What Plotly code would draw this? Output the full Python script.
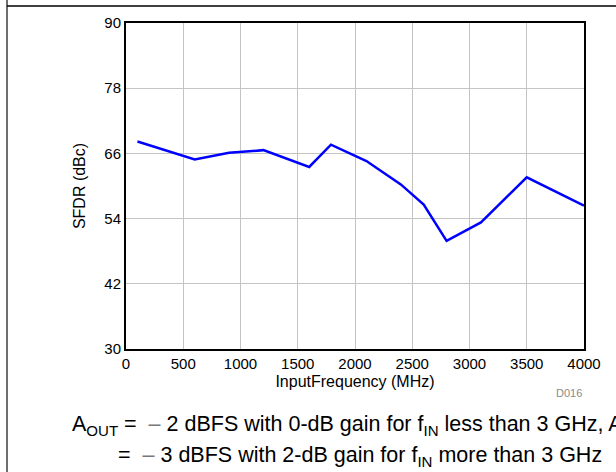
import plotly.graph_objects as go

# Data
input_freq_mhz = [100, 600, 900, 1200, 1600, 1790, 2100, 2400, 2600, 2800, 3100, 3500, 4000]
sfdr_dbc = [68.2, 64.9, 66.1, 66.6, 63.5, 67.6, 64.6, 60.3, 56.6, 49.9, 53.3, 61.6, 56.4]

x_ticks = [0, 500, 1000, 1500, 2000, 2500, 3000, 3500, 4000]
y_ticks = [30, 42, 54, 66, 78, 90]

x_title = "InputFrequency (MHz)"
y_title = "SFDR (dBc)"
caption_line1 = "A<sub>OUT</sub> =  <span style='color:#777777'>\u2013</span> 2 dBFS with 0-dB gain for f<sub>IN</sub> less than 3 GHz, A"
caption_line2 = "=  <span style='color:#777777'>\u2013</span> 3 dBFS with 2-dB gain for f<sub>IN</sub> more than 3 GHz"
figure_id = "D016"

FONT = "Liberation Sans, Arial, sans-serif"

W, H = 616, 472
L, R, T, B = 126, 584, 23, 349


def px(xp):
    return (xp - L) / (R - L)


def py(yp):
    return (B - yp) / (B - T)


fig = go.Figure()
fig.add_trace(go.Scatter(
    x=input_freq_mhz, y=sfdr_dbc, mode="lines",
    line=dict(color="#0000ff", width=2.5),
    showlegend=False, hoverinfo="skip",
))

axis_common = dict(
    showgrid=True, gridcolor="#c4c4c4", gridwidth=1.2,
    showline=True, linecolor="#000000", linewidth=2, mirror=True,
    zeroline=False, ticks="",
    tickfont=dict(family=FONT, size=15, color="#000000"),
)

fig.update_xaxes(
    range=[0, 4000], tickvals=x_ticks, ticktext=[str(v) for v in x_ticks],
    title=dict(text=x_title, font=dict(family=FONT, size=16, color="#000000"), standoff=5),
    **axis_common,
)
fig.update_yaxes(
    range=[30, 90], tickvals=y_ticks, ticktext=[str(v) for v in y_ticks],
    title=dict(text=y_title, font=dict(family=FONT, size=16, color="#000000"), standoff=15),
    **axis_common,
)

fig.update_layout(
    width=W, height=H,
    margin=dict(l=L, r=W - R, t=T, b=H - B, autoexpand=False),
    paper_bgcolor="#ffffff", plot_bgcolor="#ffffff",
    font=dict(family=FONT, color="#000000"),
    shapes=[
        dict(type="line", xref="paper", yref="paper",
             x0=px(7), x1=px(7), y0=py(0), y1=py(H),
             line=dict(color="#6e6e6e", width=2)),
        dict(type="line", xref="paper", yref="paper",
             x0=px(7), x1=px(W), y0=py(6), y1=py(6),
             line=dict(color="#000000", width=1.5)),
    ],
    annotations=[
        dict(text=figure_id, xref="paper", yref="paper", x=px(584), y=py(393),
             xanchor="right", yanchor="middle", showarrow=False,
             font=dict(family=FONT, size=11, color="#8a8a8a")),
        dict(text=caption_line1, xref="paper", yref="paper", x=px(70), y=py(425),
             xanchor="left", yanchor="middle", showarrow=False,
             font=dict(family=FONT, size=21.5, color="#000000")),
        dict(text=caption_line2, xref="paper", yref="paper", x=px(116), y=py(457),
             xanchor="left", yanchor="middle", showarrow=False,
             font=dict(family=FONT, size=21.5, color="#000000")),
    ],
)

fig.write_html(
    "out.html",
    config={"displayModeBar": False},
    post_script="document.body.style.margin='0';document.body.style.overflow='hidden';",
)
